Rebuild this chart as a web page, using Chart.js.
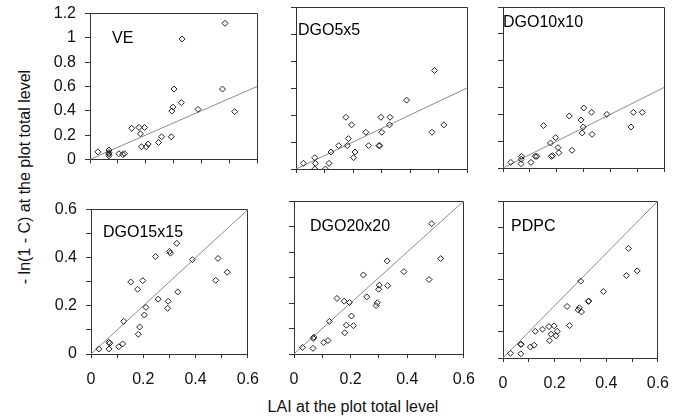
<!DOCTYPE html>
<html lang="en">
<head>
<meta charset="UTF-8">
<title>LAI vs -ln(1 - C)</title>
<script src="https://cdn.jsdelivr.net/npm/chart.js"></script>
<style>
  body { margin: 0; background: #fff; }
  #wrap { position: relative; width: 692px; height: 419px; overflow: hidden; font-family: 'Liberation Sans', Arial, sans-serif; color: #111; }
  .ytitle { position: absolute; left: 25px; top: 177px; transform: translate(-50%, -50%) rotate(-90deg); white-space: nowrap; font-size: 16px; }
  .xtitle { position: absolute; left: 353px; top: 407px; transform: translate(-50%, -50%); white-space: nowrap; font-size: 16px; }
</style>
</head>
<body>
<div id="wrap">
  <div class="ytitle">- ln(1 - C) at the plot total level</div>
  <div class="xtitle">LAI at the plot total level</div>
</div>

<script>
// valores (LAI en x, -ln(1-C) en y)
const veX = [0.028, 0.068, 0.068, 0.068, 0.068, 0.104, 0.118, 0.124, 0.15, 0.176, 0.181, 0.196, 0.185, 0.202, 0.209, 0.246, 0.257, 0.292, 0.294, 0.298, 0.302, 0.328, 0.331, 0.388, 0.476, 0.485, 0.52];
const veY = [0.062, 0.077, 0.057, 0.045, 0.03, 0.047, 0.04, 0.047, 0.256, 0.263, 0.211, 0.263, 0.104, 0.104, 0.127, 0.139, 0.186, 0.186, 0.398, 0.43, 0.579, 0.467, 0.991, 0.412, 0.579, 1.12, 0.393];

const dgo5X = [0.026, 0.066, 0.068, 0.066, 0.103, 0.116, 0.123, 0.15, 0.175, 0.18, 0.184, 0.195, 0.202, 0.207, 0.245, 0.255, 0.291, 0.294, 0.298, 0.301, 0.328, 0.33, 0.388, 0.477, 0.486, 0.519];
const dgo5Y = [0.042, 0.084, 0.042, 0.0, 0.0, 0.042, 0.126, 0.173, 0.383, 0.173, 0.225, 0.327, 0.084, 0.126, 0.272, 0.173, 0.173, 0.173, 0.383, 0.272, 0.327, 0.383, 0.51, 0.272, 0.73, 0.327];

const dgo10X = [0.029, 0.067, 0.068, 0.069, 0.104, 0.12, 0.126, 0.151, 0.177, 0.18, 0.185, 0.196, 0.205, 0.208, 0.247, 0.257, 0.291, 0.295, 0.299, 0.301, 0.33, 0.332, 0.387, 0.477, 0.486, 0.519];
const dgo10Y = [0.042, 0.032, 0.065, 0.087, 0.042, 0.087, 0.087, 0.316, 0.186, 0.087, 0.092, 0.226, 0.152, 0.114, 0.388, 0.132, 0.358, 0.261, 0.306, 0.447, 0.415, 0.251, 0.4, 0.306, 0.415, 0.415];

const dgo15X = [0.03, 0.068, 0.072, 0.069, 0.106, 0.121, 0.125, 0.152, 0.178, 0.181, 0.186, 0.198, 0.204, 0.21, 0.247, 0.257, 0.293, 0.295, 0.3, 0.304, 0.328, 0.332, 0.388, 0.477, 0.486, 0.521];
const dgo15Y = [0.021, 0.049, 0.045, 0.021, 0.03, 0.042, 0.136, 0.299, 0.269, 0.082, 0.112, 0.305, 0.162, 0.194, 0.405, 0.228, 0.19, 0.219, 0.426, 0.419, 0.46, 0.258, 0.392, 0.306, 0.397, 0.34];

const dgo20X = [0.03, 0.068, 0.07, 0.067, 0.105, 0.12, 0.125, 0.152, 0.177, 0.179, 0.185, 0.196, 0.203, 0.21, 0.245, 0.257, 0.29, 0.294, 0.299, 0.301, 0.329, 0.331, 0.388, 0.477, 0.486, 0.518];
const dgo20Y = [0.026, 0.061, 0.066, 0.022, 0.045, 0.053, 0.128, 0.218, 0.207, 0.083, 0.113, 0.202, 0.149, 0.111, 0.31, 0.224, 0.19, 0.201, 0.254, 0.27, 0.365, 0.268, 0.323, 0.292, 0.511, 0.374];

const pdpcX = [0.029, 0.069, 0.07, 0.069, 0.106, 0.121, 0.125, 0.153, 0.178, 0.18, 0.186, 0.198, 0.205, 0.21, 0.248, 0.258, 0.291, 0.296, 0.301, 0.304, 0.331, 0.332, 0.389, 0.478, 0.486, 0.52];
const pdpcY = [0.018, 0.052, 0.053, 0.016, 0.042, 0.049, 0.102, 0.11, 0.12, 0.066, 0.091, 0.123, 0.085, 0.102, 0.197, 0.124, 0.184, 0.192, 0.294, 0.176, 0.216, 0.218, 0.254, 0.315, 0.419, 0.333];

// linea 1:1
const oneToOne = [0, 0.6];

// etiquetas de los ejes
const xTickLabels = [0, 0.2, 0.4, 0.6];
const yTickLabelsTop = [0, 0.2, 0.4, 0.6, 0.8, 1, 1.2];
const yTickLabelsBottom = [0, 0.2, 0.4, 0.6];

const FONT = "'Liberation Sans', Arial, sans-serif";
const INK = '#333';
const pad = { left: 0, top: 12, right: 18, bottom: 0 };
const YW = 45; // ancho fijo del eje y

// posiciones de los paneles (area de datos en px)
const panels = [
  { name: 'VE',       xs: veX,    ys: veY,    row: 0, col: 0, L: 90,  T: 7,   R: 257, B: 168, dx: 22, dy: 29.5 },
  { name: 'DGO5x5',   xs: dgo5X,  ys: dgo5Y,  row: 0, col: 1, L: 296, T: 7,   R: 467, B: 169, dx: 2,  dy: 27.5 },
  { name: 'DGO10x10', xs: dgo10X, ys: dgo10Y, row: 0, col: 2, L: 503, T: 7,   R: 664, B: 168, dx: 0,  dy: 19.5 },
  { name: 'DGO15x15', xs: dgo15X, ys: dgo15Y, row: 1, col: 0, L: 91,  T: 203, R: 253, B: 354, dx: 12, dy: 27.5 },
  { name: 'DGO20x20', xs: dgo20X, ys: dgo20Y, row: 1, col: 1, L: 294, T: 201, R: 469, B: 354, dx: 16, dy: 29.5 },
  { name: 'PDPC',     xs: pdpcX,  ys: pdpcY,  row: 1, col: 2, L: 503, T: 201, R: 663, B: 358, dx: 8,  dy: 29.5 }
];

function pickLabel(list) {
  return v => list.some(t => Math.abs(t - v) < 1e-6) ? String(+v.toFixed(1)) : '';
}

function align(v) { return Math.round(v - 0.5) + 0.5; }

// marco superior y derecho
const framePlugin = {
  id: 'frame',
  beforeDatasetsDraw(chart) {
    const { ctx, chartArea: a } = chart;
    ctx.save();
    ctx.strokeStyle = INK;
    ctx.lineWidth = 1;
    ctx.beginPath();
    ctx.moveTo(align(a.left), align(a.top));
    ctx.lineTo(align(a.right), align(a.top));
    ctx.lineTo(align(a.right), align(a.bottom));
    ctx.stroke();
    ctx.restore();
  }
};

// nombre del panel dentro del area
const labelPlugin = {
  id: 'panelLabel',
  afterDraw(chart, args, opts) {
    const { ctx, chartArea: a } = chart;
    ctx.save();
    ctx.font = '16px ' + FONT;
    ctx.fillStyle = '#000';
    ctx.textBaseline = 'alphabetic';
    ctx.fillText(opts.text, a.left + opts.dx, a.top + opts.dy);
    ctx.restore();
  }
};

const wrap = document.getElementById('wrap');

panels.forEach(p => {
  const xh = p.row === 0 ? 10 : 42;
  const w = (p.R - p.L) + YW + pad.right;
  const h = (p.B - p.T) + pad.top + xh;
  const cv = document.createElement('canvas');
  cv.width = w;
  cv.height = h;
  cv.style.cssText = 'position:absolute;left:' + (p.L - YW) + 'px;top:' + (p.T - pad.top) + 'px;width:' + w + 'px;height:' + h + 'px;';
  wrap.appendChild(cv);

  const yMax = p.row === 0 ? 1.2 : 0.6;

  new Chart(cv, {
    type: 'scatter',
    data: {
      datasets: [
        {
          data: p.xs.map((x, i) => ({ x: x, y: p.ys[i] })),
          pointStyle: 'rectRot',
          pointRadius: 3,
          borderWidth: 1,
          borderColor: '#222',
          backgroundColor: 'rgba(255,255,255,0)'
        },
        {
          data: oneToOne.map(v => ({ x: v, y: v })),
          showLine: true,
          borderColor: '#8c8c8c',
          borderWidth: 1,
          pointRadius: 0
        }
      ]
    },
    options: {
      responsive: false,
      animation: false,
      events: [],
      layout: { padding: pad },
      plugins: {
        legend: { display: false },
        tooltip: { enabled: false },
        panelLabel: { text: p.name, dx: p.dx, dy: p.dy }
      },
      scales: {
        x: {
          type: 'linear',
          min: 0,
          max: 0.6,
          afterFit: s => { s.height = xh; },
          ticks: {
            stepSize: 0.1,
            display: p.row === 1,
            autoSkip: false,
            maxRotation: 0,
            padding: 12,
            color: '#111',
            font: { family: FONT, size: 16 },
            callback: pickLabel(xTickLabels)
          },
          grid: { drawOnChartArea: false, tickLength: 4, color: INK },
          border: { color: INK }
        },
        y: {
          type: 'linear',
          min: 0,
          max: yMax,
          afterFit: s => { s.width = YW; },
          ticks: {
            stepSize: p.row === 0 ? 0.2 : 0.1,
            display: p.col === 0,
            autoSkip: false,
            padding: 9,
            color: '#111',
            font: { family: FONT, size: 16 },
            callback: pickLabel(p.row === 0 ? yTickLabelsTop : yTickLabelsBottom)
          },
          grid: { drawOnChartArea: false, tickLength: 5, color: INK },
          border: { color: INK }
        }
      }
    },
    plugins: [framePlugin, labelPlugin]
  });
});
</script>
</body>
</html>
